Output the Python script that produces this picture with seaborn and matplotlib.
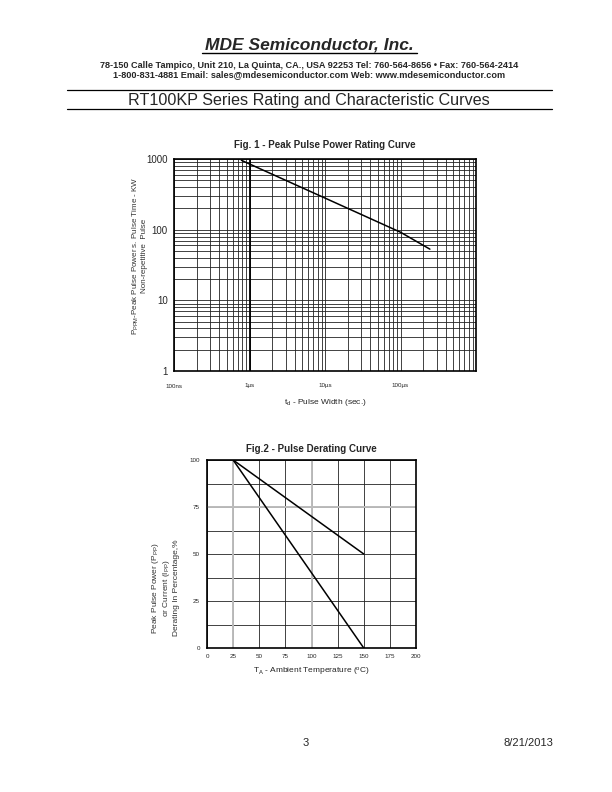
"""RT100KP rating curves page: peak pulse power and pulse derating."""

import matplotlib
matplotlib.use("Agg")
import matplotlib.pyplot as plt
import numpy as np
import pandas as pd
import seaborn as sns
from matplotlib.lines import Line2D
from matplotlib.ticker import FixedLocator, LogLocator, NullFormatter

# Fig. 1 - peak pulse power vs pulse width (width in us, power in kW)
pulse_width_us = [0.78, 1.0, 10.0, 100.0, 245.0]
peak_power_kw = [960, 850, 280, 92, 53]
fig1_xticks = [0.1, 1.0, 10.0, 100.0]
fig1_xlabels = ["100ns", "1\u00b5s", "10\u00b5s", "100\u00b5s"]
fig1_yticks = [1, 10, 100, 1000]

# Fig. 2 - derating curves (temperature in C, percentage)
derate_temp = [25, 150]
derate_power = [100, 50]
derate_current = [100, 0]
fig2_xticks = [0, 25, 50, 75, 100, 125, 150, 175, 200]
fig2_yticks = [0, 25, 50, 75, 100]

sns.set_style("white")
plt.rcParams["font.family"] = ["Liberation Sans", "DejaVu Sans"]
plt.rcParams["mathtext.fontset"] = "custom"
plt.rcParams["mathtext.rm"] = "Liberation Sans"
plt.rcParams["mathtext.it"] = "Liberation Sans:italic"

W, H = 612, 792
fig = plt.figure(figsize=(W / 100, H / 100), dpi=100)


def fx(px):
    return px / W


def fy(py):
    return 1 - py / H


# ---- page header ----
fig.text(fx(309), fy(45), "MDE Semiconductor, Inc.", ha="center", va="center",
         fontsize=12.5, fontweight="bold", fontstyle="italic")
fig.add_artist(Line2D([fx(202), fx(417)], [fy(53), fy(53)], color="black", lw=1.0))
fig.text(fx(309), fy(65),
         "78-150 Calle Tampico, Unit 210, La Quinta, CA., USA 92253 Tel: 760-564-8656 \u2022 Fax: 760-564-2414",
         ha="center", va="center", fontsize=6.55, fontweight="bold")
fig.text(fx(309), fy(75),
         "1-800-831-4881 Email: sales@mdesemiconductor.com Web: www.mdesemiconductor.com",
         ha="center", va="center", fontsize=6.55, fontweight="bold")
fig.add_artist(Line2D([fx(67), fx(552)], [fy(90), fy(90)], color="black", lw=0.9))
fig.text(fx(309), fy(100), "RT100KP Series Rating and Characteristic Curves",
         ha="center", va="center", fontsize=11.6)
fig.add_artist(Line2D([fx(67), fx(552)], [fy(109), fy(109)], color="black", lw=0.9))

# ---- Fig. 1 ----
ax1 = fig.add_axes([fx(174), fy(371), (476 - 174) / W, (371 - 159) / H])
df1 = pd.DataFrame({"width": pulse_width_us, "power": peak_power_kw})
sns.lineplot(data=df1, x="width", y="power", ax=ax1, color="black", lw=1.1, zorder=4)
ax1.set_xscale("log")
ax1.set_yscale("log")
ax1.set_xlim(0.1, 1000)
ax1.set_ylim(1, 1000)
ax1.xaxis.set_major_locator(FixedLocator(fig1_xticks))
ax1.set_xticklabels(fig1_xlabels)
ax1.xaxis.set_minor_locator(LogLocator(base=10, subs=np.arange(2, 10)))
ax1.xaxis.set_minor_formatter(NullFormatter())
ax1.yaxis.set_major_locator(FixedLocator(fig1_yticks))
ax1.set_yticklabels([str(v) for v in fig1_yticks])
ax1.yaxis.set_minor_locator(LogLocator(base=10, subs=np.arange(2, 10)))
ax1.yaxis.set_minor_formatter(NullFormatter())
ax1.set_axisbelow(True)
ax1.grid(True, which="both", color="#222222", lw=0.6)
ax1.axvline(1.0, color="black", lw=1.3, zorder=2)
ax1.tick_params(axis="both", which="both", length=0)
ax1.tick_params(axis="x", labelsize=4.5, pad=9)
ax1.tick_params(axis="y", labelsize=7, pad=4.5)
for s in ax1.spines.values():
    s.set_linewidth(1.2)
    s.set_color("black")
ax1.set_title("Fig. 1 - Peak Pulse Power Rating Curve", fontsize=7, fontweight="bold", pad=8)
ax1.set_xlabel("t$_{\\rm d}$ - Pulse Width (sec.)", fontsize=6, labelpad=6)
ax1.set_ylabel("P$_{\\rm PPM}$-Peak Pulse Power s. Pulse Time - KW\nNon-repetitive  Pulse",
               fontsize=5.8, color="#333333", linespacing=0.95)
ax1.yaxis.set_label_coords(-0.086, 0.542)

# ---- Fig. 2 ----
ax2 = fig.add_axes([fx(207), fy(648), (416 - 207) / W, (648 - 460) / H])
df2 = pd.DataFrame({
    "temp": derate_temp * 2,
    "pct": derate_power + derate_current,
    "curve": ["power"] * 2 + ["current"] * 2,
})
sns.lineplot(data=df2, x="temp", y="pct", hue="curve", ax=ax2,
             palette=["black", "black"], lw=1.1, legend=False, zorder=4)
ax2.set_xlim(0, 200)
ax2.set_ylim(0, 100)
ax2.xaxis.set_major_locator(FixedLocator(fig2_xticks))
ax2.yaxis.set_major_locator(FixedLocator(fig2_yticks))
ax2.yaxis.set_minor_locator(FixedLocator([12.5, 37.5, 62.5, 87.5]))
ax2.set_axisbelow(True)
ax2.grid(True, which="both", color="#222222", lw=0.6)
for v in (25, 100):
    ax2.axvline(v, color="#bbbbbb", lw=1.4, zorder=1)
ax2.axhline(75, color="#bbbbbb", lw=1.4, zorder=1)
ax2.tick_params(axis="both", which="both", length=0, labelsize=4.5)
ax2.tick_params(axis="x", pad=4)
ax2.tick_params(axis="y", pad=5)
for s in ax2.spines.values():
    s.set_linewidth(1.2)
    s.set_color("black")
ax2.set_title("Fig.2 - Pulse Derating Curve", fontsize=7, fontweight="bold", pad=6)
ax2.set_xlabel("T$_{\\rm A}$ - Ambient Temperature ($^{\\rm o}$C)", fontsize=6, labelpad=5)
ax2.set_ylabel("Peak Pulse Power (P$_{\\rm PP}$)\nor Current (I$_{\\rm PP}$)\nDerating In Percentage,%",
               fontsize=6, color="#333333", linespacing=1.05)
ax2.yaxis.set_label_coords(-0.131, 0.319)

# ---- footer ----
fig.text(fx(306), fy(743), "3", ha="center", va="center", fontsize=8)
fig.text(fx(553), fy(743), "8/21/2013", ha="right", va="center", fontsize=8)

fig.savefig("out.png", dpi=100)
